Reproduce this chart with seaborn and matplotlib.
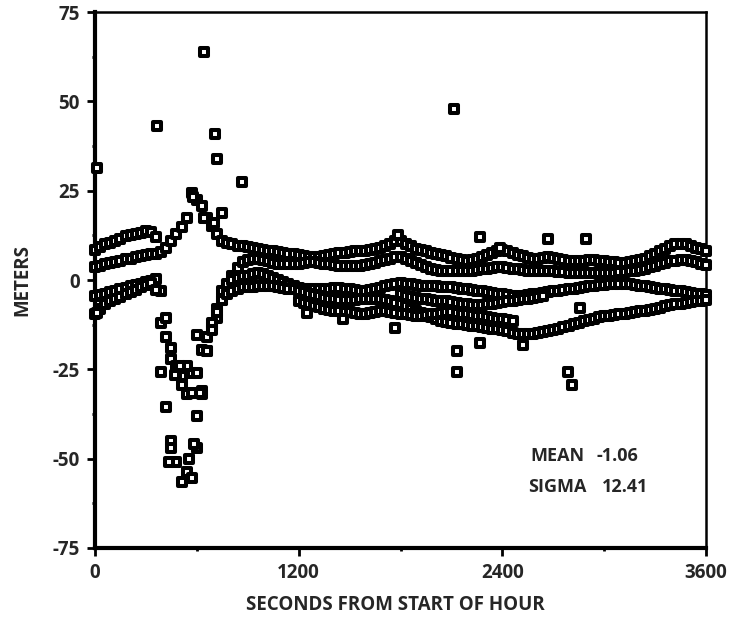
import numpy as np
import pandas as pd
import matplotlib.pyplot as plt
import seaborn as sns

nan = np.nan

# sample times (s) shared by the tracks
seconds = list(range(0, 3601, 30))

track_p = [3.6, 4.0, 4.4, 4.8, 5.0, 5.4, 5.8, 6.0, 6.4, 6.8,
           7.0, 7.2, 7.4, 7.8, 9.0, 10.8, 12.8, 14.8, 17.3, 24.3,
           22.4, 20.7, 17.3, 15.0, 13.0, 11.0, 10.4, 10.0, 9.6, 9.4,
           9.2, 9.0, 8.8, 8.5, 8.2, 8.0, 7.8, 7.5, 7.4, 7.2,
           7.0, 6.8, 6.5, 6.4, 6.5, 6.8, 7.0, 7.2, 7.5, 7.6,
           7.8, 8.0, 8.0, 8.2, 8.4, 8.6, 9.0, 9.4, 10.0, 10.8,
           11.0, 10.0, 9.4, 8.8, 8.4, 8.0, 7.6, 7.2, 7.0, 6.6,
           6.2, 6.0, 5.6, 5.4, 5.6, 6.0, 6.4, 7.0, 7.6, 8.2,
           8.4, 8.0, 7.6, 7.0, 6.6, 6.2, 6.0, 6.0, 6.2, 6.4,
           6.2, 6.0, 5.6, 5.4, 5.2, 5.2, 5.4, 5.6, 5.6, 5.4,
           5.2, 5.0, 5.0, 4.8, 4.8, 5.0, 5.2, 5.6, 6.0, 6.6,
           7.2, 8.0, 8.8, 9.4, 10.0, 10.2, 10.0, 9.6, 9.0, 8.6,
           8.2]

track_q = [8.5, 9.2, 10.0, 10.4, 11.0, 11.6, 12.2, 12.6, 13.0, 13.2,
           13.6, 13.4, 12.0, -12.0, -16.0, -22.0, -24.0, -27.0, -32.0, -26.0,
           -15.4, -19.6, -16.0, -13.0, -10.6, -5.6, -2.0, 1.0, 3.5, 5.0,
           5.6, 6.0, 6.0, 5.6, 5.2, 4.8, 4.6, 4.4, 4.4, 4.4,
           4.6, 4.8, 5.0, 5.0, 4.8, 4.6, 4.4, 4.2, 4.0, 3.8,
           3.8, 3.8, 4.0, 4.2, 4.4, 4.8, 5.2, 5.6, 6.0, 6.4,
           6.4, 6.0, 5.4, 4.8, 4.2, 3.6, 3.2, 2.8, 2.6, 2.4,
           2.4, 2.4, 2.4, 2.4, 2.6, 2.8, 3.0, 3.2, 3.4, 3.6,
           3.6, 3.4, 3.2, 3.0, 2.8, 2.6, 2.4, 2.4, 2.4, 2.4,
           2.4, 2.2, 2.2, 2.0, 2.0, 2.0, 2.0, 2.0, 2.0, 2.0,
           2.0, 2.0, 2.0, 2.2, 2.2, 2.4, 2.6, 2.8, 3.2, 3.6,
           4.0, 4.4, 4.8, 5.2, 5.4, 5.6, 5.6, 5.4, 5.0, 4.6,
           4.2]

track_r = [-4.6, -4.2, -3.8, -3.4, -3.0, -2.6, -2.2, -1.8, -1.4, -1.0,
           -0.6, -0.2, 0.4, -3.0, -10.6, -19.0, -26.6, -29.4, -24.0, -31.6,
           -38.0, -31.0, -20.0, -12.0, -8.0, -3.0, -1.0, 0.0, 0.6, 1.0,
           1.2, 1.6, 2.0, 1.8, 1.2, 0.6, 0.0, -0.6, -1.2, -1.8,
           -2.2, -2.4, -2.6, -2.6, -2.6, -2.4, -2.4, -2.2, -2.2, -2.4,
           -2.6, -2.8, -3.0, -3.0, -2.8, -2.6, -2.2, -1.8, -1.4, -1.0,
           -0.8, -1.0, -1.2, -1.4, -1.6, -1.6, -1.8, -1.8, -2.0, -2.0,
           -2.0, -2.2, -2.4, -2.6, -2.8, -3.0, -3.2, -3.4, -3.6, -3.8,
           -4.0, -4.2, -4.4, -4.4, -4.4, -4.2, -4.0, -3.8, -3.6, -3.4,
           -3.2, -3.0, -2.8, -2.6, -2.4, -2.2, -2.0, -1.8, -1.6, -1.4,
           -1.4, -1.2, -1.2, -1.0, -1.0, -1.2, -1.4, -1.6, -1.8, -2.0,
           -2.2, -2.4, -2.6, -2.8, -3.0, -3.2, -3.4, -3.6, -3.8, -4.0,
           -4.2]

track_s = [-9.6, -8.0, -6.8, -6.0, -5.4, -4.8, -4.0, -3.4, -2.8, -2.0,
           -1.4, -0.8, -2.8, -25.7, -35.5, -45.0, -51.0, -56.5, -53.7, -55.4,
           -47.0, -32.0, -20.0, -14.0, -9.0, -5.6, -4.0, -3.0, -2.4, -2.0,
           -2.0, -2.0, -1.8, -1.6, -1.6, -1.8, -2.0, -2.2, -2.4, -2.6,
           -3.0, -3.4, -3.8, -4.2, -4.6, -5.0, -5.2, -5.4, -5.6, -5.6,
           -5.6, -5.6, -5.4, -5.4, -5.2, -5.2, -5.4, -5.6, -6.0, -6.4,
           -6.8, -7.4, -8.0, -8.6, -9.2, -9.8, -10.4, -11.0, -11.4, -11.8,
           -12.0, -12.2, -12.4, -12.6, -12.8, -13.0, -13.2, -13.4, -13.6, -13.8,
           -14.0, -14.4, -14.8, -15.0, -15.2, -15.2, -15.0, -14.8, -14.6, -14.4,
           -14.0, -13.6, -13.2, -12.8, -12.4, -12.0, -11.6, -11.2, -10.8, -10.4,
           -10.2, -10.0, -9.8, -9.6, -9.4, -9.2, -9.0, -8.8, -8.6, -8.4,
           -8.2, -7.8, -7.4, -7.0, -6.8, -6.6, -6.4, -6.2, -6.0, -5.8,
           -5.6]

track_e = [nan] * 60 + [
           -4.0, -4.4, -4.8, -5.0, -5.2, -5.4, -5.6, -5.8, -6.0, -6.0,
           -6.2, -6.4, -6.6, -6.8, -7.0, -7.0, -7.0, -6.8, -6.6, -6.4,
           -6.2, -6.0, -5.8, -5.6, -5.4, -5.2, -5.0, -4.8, -4.6, nan] + [nan] * 31

track_f = [nan] * 40 + [
           -6.0, -6.4, -6.8, -7.2, -7.6, -8.0, -8.4, -8.6, -8.8, -9.0,
           -9.0, -9.2, -9.4, -9.4, -9.2, -9.0, -8.8, -8.8, -9.0, -9.2,
           -9.4, -9.6, -9.8, -10.0, -10.0, -9.8, -9.6, -9.4, -9.2, -9.0,
           -9.0, -9.2, -9.4, -9.6, -9.8, -10.0, -10.2, -10.4, -10.6, -10.8,
           -11.0, -11.2, -11.4] + [nan] * 38

# scattered points off the main tracks
extra_t = [10, 363, 642, 707, 717, 864, 2115, 1785, 2268, 2386, 2670, 2890,
           2860, 1250, 1463, 1768, 2130, 2130, 2270, 2520, 2787, 2810,
           445, 585, 435, 555, 500, 470, 600, 620, 575, 640, 747, 700, 10]
extra_y = [31.3, 43.0, 63.8, 41.0, 33.8, 27.4, 47.8, 12.6, 12.0, 9.0, 11.6, 11.6,
           -7.8, -9.2, -11.0, -13.4, -19.8, -25.7, -17.6, -18.2, -25.7, -29.4,
           -47.0, -46.0, -51.0, -50.0, -24.0, -26.6, -26.0, -31.6, 23.2, 17.3, 18.8, 16.0, -9.2]

frames = [pd.DataFrame({"seconds": seconds, "meters": tr})
          for tr in (track_p, track_q, track_r, track_s, track_e, track_f)]
frames.append(pd.DataFrame({"seconds": extra_t, "meters": extra_y}))
df = pd.concat(frames, ignore_index=True).dropna()

sns.set_style("ticks")
plt.rcParams["font.family"] = ["Open Sans", "DejaVu Sans"]
plt.rcParams["font.weight"] = "bold"
plt.rcParams["axes.unicode_minus"] = False

fig = plt.figure(figsize=(7.33, 6.33), dpi=100)
ax = fig.add_axes([0.1296, 0.1343, 0.8336, 0.8467])

sns.scatterplot(data=df, x="seconds", y="meters", ax=ax, marker="s",
                color="white", edgecolor="black",
                clip_on=False, zorder=3, legend=False)
pts = ax.collections[0]
pts.set_sizes([32])
pts.set_linewidth(2.9)
pts.set_edgecolor("black")
pts.set_facecolor("white")

ax.set_xlim(0, 3600)
ax.set_ylim(-75, 75)
ax.set_xticks([0, 1200, 2400, 3600])
ax.set_xticks([600, 1800, 3000], minor=True)
ax.set_yticks([-75, -50, -25, 0, 25, 50, 75])
ax.set_yticks([-62.5, -37.5, -12.5, 12.5, 37.5, 62.5], minor=True)
ax.tick_params(which="major", direction="out", length=6, width=2,
               labelsize=13.5, color="black", pad=5)
ax.tick_params(which="minor", direction="out", length=2.5, width=2, color="black")
for lab in ax.get_xticklabels() + ax.get_yticklabels():
    lab.set_fontweight("bold")

for side in ("left", "bottom"):
    ax.spines[side].set_linewidth(3)
for side in ("top", "right"):
    ax.spines[side].set_linewidth(1.8)
for sp in ax.spines.values():
    sp.set_color("black")

ax.set_xlabel("SECONDS FROM START OF HOUR", fontsize=13.5, fontweight="bold")
ax.set_ylabel("METERS", fontsize=13.5, fontweight="bold")
ax.xaxis.set_label_coords(0.491, -0.106)
ax.xaxis.label.set_va("center")
ax.yaxis.set_label_coords(-0.119, 0.5)
ax.yaxis.label.set_va("center")

ax.text(0.712, 0.172, "MEAN", transform=ax.transAxes, fontsize=13,
        fontweight="bold", va="center", ha="left")
ax.text(0.820, 0.172, "-1.06", transform=ax.transAxes, fontsize=13,
        fontweight="bold", va="center", ha="left")
ax.text(0.709, 0.114, "SIGMA", transform=ax.transAxes, fontsize=13,
        fontweight="bold", va="center", ha="left")
ax.text(0.830, 0.114, "12.41", transform=ax.transAxes, fontsize=13,
        fontweight="bold", va="center", ha="left")

plt.savefig("out.png", dpi=100)
plt.close()
